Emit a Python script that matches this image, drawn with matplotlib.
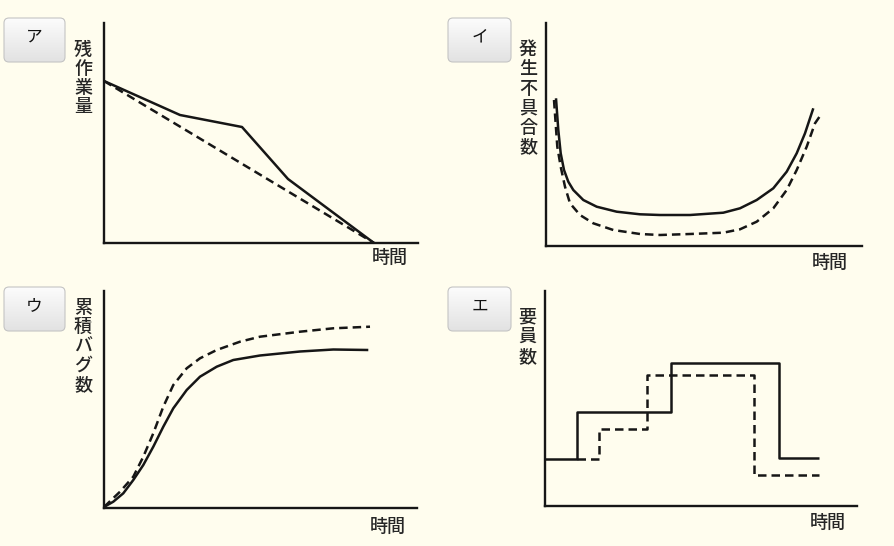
import numpy as np
import matplotlib

matplotlib.use("Agg")
import matplotlib.pyplot as plt
from matplotlib.colors import LinearSegmentedColormap
from matplotlib.patches import FancyBboxPatch

plt.rcParams["font.family"] = ["Noto Sans CJK JP", "DejaVu Sans"]

W, H = 894, 546
BG = "#fffdee"
INK = "#161616"
TXT = "#262626"

# panel ア: remaining work vs time
a_plan_x = [0, 270]
a_plan_y = [162, 0]
a_real_x = [0, 76, 138, 184, 270]
a_real_y = [162, 128, 116, 64, 0]

# panel イ: defects vs time (bathtub)
i_solid_x = [10, 12.3, 14.7, 18, 22.3, 27.3, 37.3, 50.7, 70.7, 94, 114, 144,
             177.3, 194, 210.7, 227.3, 240.7, 250.7, 259, 267.3]
i_solid_y = [147.7, 116, 92.7, 76, 64.3, 56, 46, 39.3, 34.3, 31.7, 31, 31,
             33.3, 37.7, 46, 57.7, 74.3, 92.7, 112.7, 137.7]
i_dash_x = [8, 11.3, 14.7, 19, 24, 34, 47.3, 67.3, 94, 114, 144,
            177.3, 194, 210.7, 227.3, 240.7, 250.7, 260.7, 269, 274]
i_dash_y = [146, 99.3, 79.3, 59.3, 42.7, 31, 22.7, 16, 12, 11, 12,
            13.3, 16.7, 24.3, 37.7, 56, 76, 99.3, 122.7, 130]

# panel ウ: cumulative bugs
u_solid_x = [0, 9.3, 19.3, 29.3, 39.3, 49.3, 59.3, 69.3, 82.7, 96, 112.7, 129.3, 156, 196, 229.3, 264.3]
u_solid_y = [1, 6.3, 14.7, 28, 43, 61.3, 81.3, 99.7, 118, 131.3, 141.3, 148, 152.5, 156.5, 158.5, 158]
u_dash_x = [0, 16, 29.3, 39.3, 49.3, 59.3, 69.3, 82.7, 96, 112.7, 136, 156, 196, 229.3, 266]
u_dash_y = [1, 16.3, 31.3, 51.3, 74.7, 101.3, 123, 139.7, 149.7, 158, 166.3, 171.3, 176.3, 179.7, 181.3]

# panel エ: staff count (steps)
e_solid_x = [0, 32, 126, 234, 274]
e_solid_y = [47, 94, 143, 48, 48]
e_dash_x = [32, 54, 102, 209, 274]
e_dash_y = [47, 77, 131, 31, 31]

panels = [
    # label, button box, axis box (left, top, right, bottom), ylabel chars, ylabel x, first y, step, xlabel pos
    ("ア", (4, 18, 65, 62), (104, 23, 418, 243), "残作業量", 83, 50, 19, (390, 258)),
    ("イ", (448, 18, 511, 62), (546, 23, 862, 246), "発生不具合数", 528, 50, 19.4, (830, 263)),
    ("ウ", (4, 287, 65, 331), (104, 291, 417, 508), "累積バグ数", 83, 308, 19.2, (388, 527)),
    ("エ", (448, 287, 511, 331), (545, 291, 857, 506), "要員数", 527, 317, 20, (828, 523)),
]

fig = plt.figure(figsize=(W / 100, H / 100), dpi=100, facecolor=BG)
over = fig.add_axes([0, 0, 1, 1], zorder=0)
over.set_xlim(0, W)
over.set_ylim(H, 0)
over.axis("off")
over.set_facecolor("none")

btn_cmap = LinearSegmentedColormap.from_list("btn", ["#fcfcfc", "#e2e2e2"])
grad = np.linspace(0, 1, 64).reshape(-1, 1)
axes = []
for label, (bl, bt, br, bb), (l, t, r, b), ylab, yx, y0, dy, (tx, ty) in panels:
    box = FancyBboxPatch((bl, bt), br - bl, bb - bt, boxstyle="round,pad=0,rounding_size=5",
                         facecolor="none", edgecolor="#c4c4c4", lw=0.8, zorder=3)
    over.add_patch(box)
    img = over.imshow(grad, extent=(bl, br, bb, bt), cmap=btn_cmap, aspect="auto", zorder=2)
    img.set_clip_path(box)
    over.text((bl + br) / 2, (bt + bb) / 2 - 3, label, ha="center", va="center", fontsize=12, color="#111")
    for k, ch in enumerate(ylab):
        over.text(yx, y0 + k * dy, ch, ha="center", va="center", fontsize=13, color=TXT, fontweight=500)
    over.text(tx, ty, "時間", ha="center", va="center", fontsize=13, color=TXT, fontweight=500)

    ax = fig.add_axes([l / W, 1 - b / H, (r - l) / W, (b - t) / H], zorder=1)
    ax.set_xlim(0, r - l)
    ax.set_ylim(0, b - t)
    ax.set_facecolor("none")
    for s in ("top", "right"):
        ax.spines[s].set_visible(False)
    for s in ("left", "bottom"):
        ax.spines[s].set_linewidth(1.7)
        ax.spines[s].set_color(INK)
    ax.set_xticks([])
    ax.set_yticks([])
    axes.append(ax)

solid = dict(color=INK, lw=1.8, clip_on=False, solid_joinstyle="round", solid_capstyle="butt")
dashed = dict(color=INK, lw=1.8, ls=(0, (3.4, 2.0)), clip_on=False)

axes[0].plot(a_plan_x, a_plan_y, **dashed)
axes[0].plot(a_real_x, a_real_y, **solid)

axes[1].plot(i_dash_x, i_dash_y, **dashed)
axes[1].plot(i_solid_x, i_solid_y, **solid)

axes[2].plot(u_dash_x, u_dash_y, **dashed)
axes[2].plot(u_solid_x, u_solid_y, **solid)

axes[3].plot(e_dash_x, e_dash_y, drawstyle="steps-post", **dashed)
axes[3].plot(e_solid_x, e_solid_y, drawstyle="steps-post", **solid)

fig.savefig("out.png", dpi=100, facecolor=BG)
